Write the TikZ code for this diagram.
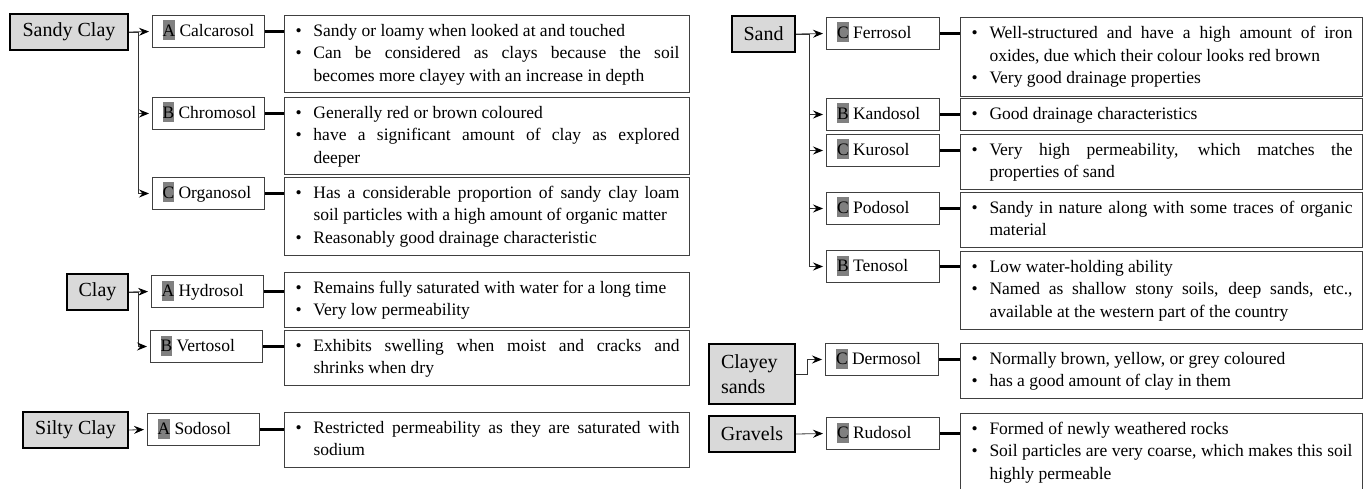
\documentclass[tikz,border=0pt]{standalone}
\usepackage{fontspec}
\setmainfont{Liberation Serif}
\usetikzlibrary{arrows.meta}
\definecolor{hlgray}{HTML}{808080}
\definecolor{catgray}{HTML}{D9D9D9}
\definecolor{bordergray}{HTML}{404040}
\newcommand{\bl}[1]{\noindent\makebox[19pt][l]{\hspace{1pt}\textbullet}\parbox[t]{\dimexpr\hsize-19pt\relax}{\hyphenpenalty=10000\exhyphenpenalty=10000\tolerance=9999\strut#1\strut}\par}
\newcommand{\hl}[1]{{\setlength{\fboxsep}{0pt}\colorbox{hlgray}{\rule[-4.3pt]{0pt}{20pt}#1}}}
\newcommand{\soillab}[2]{\makebox[92pt][l]{\strut\hl{#1} #2}}
\tikzset{
  desc/.style={draw=bordergray, line width=1pt, anchor=north west, inner xsep=10pt, inner ysep=5pt,
    align=justify, font=\fontsize{17.5}{22.5}\selectfont,
    execute at begin node={\lineskip=0pt\lineskiplimit=0pt\parskip=0pt}},
  descL/.style={desc, text width=385pt},
  descR/.style={desc, text width=382pt},
  soil/.style={draw=bordergray, line width=1pt, anchor=north west, inner xsep=10pt, inner ysep=0pt,
    minimum height=32pt, font=\fontsize{17.5}{21}\selectfont},
  soilL/.style={soil, minimum width=112pt},
  soilR/.style={soil, minimum width=113pt},
  cat/.style={draw=black, line width=2pt, fill=catgray, anchor=north west, inner sep=0pt,
    minimum height=36pt, align=center, font=\fontsize{20}{25}\selectfont},
  arr/.style={draw=black!80, line width=0.8pt, -{Stealth[length=10pt,width=8pt,inset=3.5pt,black]}, shorten >=3pt},
  link/.style={draw=black, line width=2.2pt},
}
\begin{document}
\begin{tikzpicture}[x=1pt,y=-1pt]
\clip (0,0) rectangle (1368,489);
\fill[white] (0,0) rectangle (1368,489);
% ---- trunk coordinates
\coordinate (tA) at (138,0);
\coordinate (tS) at (809,0);
\coordinate (tD) at (807,0);
% ---- category boxes
\node[cat, minimum width=118pt] (SC) at (9,13) {Sandy Clay};
\node[cat, minimum width=61pt] (CL) at (66,273) {Clay};
\node[cat, minimum width=105pt] (SI) at (22,411) {Silty Clay};
\node[cat, minimum width=63pt] (SA) at (731,15) {Sand};
\node[cat, minimum height=60pt, text width=62pt, align=left, inner xsep=12pt] (CS) at (708,343) {Clayey\\sands};
\node[cat, minimum width=86pt] (GR) at (708,415) {Gravels};
% ---- soil boxes
\node[soilL] (Calc) at (152,15) {\soillab{A}{Calcarosol}};
\node[soilL] (Chro) at (152,97) {\soillab{B}{Chromosol}};
\node[soilL] (Orga) at (152,177) {\soillab{C}{Organosol}};
\node[soilL] (Hydr) at (151,275) {\soillab{A}{Hydrosol}};
\node[soilL] (Vert) at (150,330) {\soillab{B}{Vertosol}};
\node[soilL] (Sodo) at (147,413) {\soillab{A}{Sodosol}};
\node[soilR] (Ferr) at (826,17) {\soillab{C}{Ferrosol}};
\node[soilR] (Kand) at (826,98) {\soillab{B}{Kandosol}};
\node[soilR] (Kuro) at (826,134) {\soillab{C}{Kurosol}};
\node[soilR] (Podo) at (826,192) {\soillab{C}{Podosol}};
\node[soilR] (Teno) at (826,250) {\soillab{B}{Tenosol}};
\node[soilR] (Derm) at (825,343) {\soillab{C}{Dermosol}};
\node[soilR] (Rudo) at (826,417) {\soillab{C}{Rudosol}};
% ---- descriptions
\node[descL] (CalcD) at (284,15) {\bl{Sandy or loamy when looked at and touched}\bl{Can be considered as clays because the soil\linebreak becomes more clayey with an increase in depth}};
\node[descL] (ChroD) at (284,97) {\bl{Generally red or brown coloured}\bl{have a significant amount of clay as explored\linebreak deeper}};
\node[descL] (OrgaD) at (284,177) {\bl{Has a considerable proportion of sandy clay loam\linebreak soil particles with a high amount of organic matter}\bl{Reasonably good drainage characteristic}};
\node[descL] (HydrD) at (284,272) {\bl{Remains fully saturated with water for a long time}\bl{Very low permeability}};
\node[descL] (VertD) at (284,330) {\bl{Exhibits swelling when moist and cracks and\linebreak shrinks when dry}};
\node[descL] (SodoD) at (284,412) {\bl{Restricted permeability as they are saturated with\linebreak sodium}};
\node[descR, minimum height=79pt] (FerrD) at (960,17) {\bl{Well-structured and have a high amount of iron\linebreak oxides, due which their colour looks red brown}\bl{Very good drainage properties}};
\node[descR] (KandD) at (960,98) {\bl{Good drainage characteristics}};
\node[descR] (KuroD) at (960,134) {\bl{Very high permeability, which matches the\linebreak properties of sand}};
\node[descR] (PodoD) at (960,192) {\bl{Sandy in nature along with some traces of organic\linebreak material}};
\node[descR] (TenoD) at (960,251) {\bl{Low water-holding ability}\bl{Named as shallow stony soils, deep sands, etc.,\linebreak available at the western part of the country}};
\node[descR] (DermD) at (960,343) {\bl{Normally brown, yellow, or grey coloured}\bl{has a good amount of clay in them}};
\node[descR] (RudoD) at (960,413) {\bl{Formed of newly weathered rocks}\bl{Soil particles are very coarse, which makes this soil\linebreak highly permeable}};
% ---- arrows: categories to soils
\draw[arr] (SC.east) -- (Calc.west);
\draw[arr] (SC.east) -- (SC.east -| tA) |- (Chro.west);
\draw[arr] (SC.east) -- (SC.east -| tA) |- (Orga.west);
\draw[arr] (CL.east) -- (Hydr.west);
\draw[arr] (CL.east) -- (CL.east -| tA) |- (Vert.west);
\draw[arr] (SI.east) -- (Sodo.west);
\draw[arr] (SA.east) -- (Ferr.west);
\draw[arr] (SA.east) -- (SA.east -| tS) |- (Kand.west);
\draw[arr] (SA.east) -- (SA.east -| tS) |- (Kuro.west);
\draw[arr] (SA.east) -- (SA.east -| tS) |- (Podo.west);
\draw[arr] (SA.east) -- (SA.east -| tS) |- (Teno.west);
\draw[arr] (CS.east) -- (CS.east -| tD) |- (Derm.west);
\draw[arr] (GR.east) -- (Rudo.west);
% ---- links: soils to descriptions
\foreach \s in {Calc,Chro,Orga,Hydr,Vert,Sodo,Ferr,Kand,Kuro,Podo,Teno,Derm,Rudo}{
  \draw[link] (\s.east) -- (\s.east -| \s D.west);
}
\end{tikzpicture}
\end{document}
